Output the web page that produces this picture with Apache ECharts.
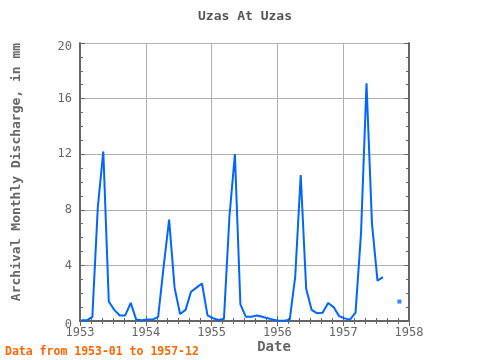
<!DOCTYPE html>
<html>
<head>
<meta charset="utf-8">
<script src="https://cdn.jsdelivr.net/npm/echarts@6/dist/echarts.min.js"></script>
<style>html,body{margin:0;padding:0;background:#fff}#c{width:480px;height:360px}</style>
</head>
<body>
<div id="c"></div>
<script>
// Monthly discharge (mm), Jan..Dec of each year; null = missing
const years = [1953, 1954, 1955, 1956, 1957];
const d1953 = [0.05, 0.05, 0.3, 8.2, 12.2, 1.4, 0.8, 0.4, 0.4, 1.3, 0.1, 0.05];
const d1954 = [0.1, 0.1, 0.3, 3.9, 7.3, 2.4, 0.5, 0.8, 2.1, 2.4, 2.7, 0.4];
const d1955 = [0.2, 0.07, 0.15, 7.5, 12.0, 1.2, 0.3, 0.3, 0.4, 0.3, 0.2, 0.1];
const d1956 = [0.02, 0.02, 0.1, 3.2, 10.5, 2.3, 0.8, 0.55, 0.6, 1.3, 1.0, 0.35];
const d1957 = [0.19, 0.1, 0.6, 6.3, 17.1, 7.0, 2.9, 3.15, null, null, 1.4, null];
const xTicks = [1953, 1954, 1955, 1956, 1957, 1958];
const yTicks = [0, 4, 8, 12, 16, 20];

const titleText = 'Uzas At Uzas';
const yName = 'Archival Monthly Discharge, in mm';
const xName = 'Date';
const footer = 'Data from 1953-01 to 1957-12';

const yearly = [d1953, d1954, d1955, d1956, d1957];
const lineData = [];
years.forEach((y, yi) => {
  yearly[yi].forEach((v, m) => {
    lineData.push([y + (m + 0.25) / 12, v]);
  });
});
// isolated points (both neighbours missing) are drawn as dots
const dotData = lineData.filter((p, i) => p[1] != null &&
  (i === 0 || lineData[i - 1][1] == null) &&
  (i === lineData.length - 1 || lineData[i + 1][1] == null));

const FONT = 'DejaVu Sans Mono';
const AX = '#666666';
const yMin = yTicks[0], yMax = yTicks[yTicks.length - 1];

const chart = echarts.init(document.getElementById('c'), null, {renderer: 'canvas'});
const tickCommon = {
  axisLine: {show: true, lineStyle: {color: AX, width: 2}},
  axisTick: {show: true, inside: true, length: 5, lineStyle: {color: AX, width: 1}},
  minorTick: {show: true, length: 3, lineStyle: {color: AX, width: 1}}
};
chart.setOption({
  animation: false,
  grid: {left: 80, right: 71, top: 43, bottom: 39, containLabel: false},
  xAxis: [
    Object.assign({
      type: 'value', min: xTicks[0], max: xTicks[xTicks.length - 1], interval: 1,
      position: 'bottom',
      splitLine: {show: true, lineStyle: {color: '#b0b0b0', width: 1}},
      axisLabel: {color: AX, fontFamily: FONT, fontSize: 12, margin: 6,
        formatter: v => String(v)}
    }, tickCommon, {minorTick: Object.assign({}, tickCommon.minorTick, {splitNumber: 6})}),
    Object.assign({
      type: 'value', min: xTicks[0], max: xTicks[xTicks.length - 1], interval: 1,
      position: 'top', splitLine: {show: false}, axisLabel: {show: false}
    }, tickCommon, {minorTick: Object.assign({}, tickCommon.minorTick, {splitNumber: 6})})
  ],
  yAxis: [
    Object.assign({
      type: 'value', min: yMin, max: yMax, interval: 4,
      position: 'left',
      splitLine: {show: true, lineStyle: {color: '#b0b0b0', width: 1}},
      axisLabel: {color: AX, fontFamily: FONT, fontSize: 12, margin: 8,
        formatter: v => (v === yMin || v === yMax) ? '{e|' + v + '}' : String(v),
        rich: {e: {color: AX, fontFamily: FONT, fontSize: 12, padding: [8, 0, 0, 0]}}}
    }, tickCommon, {minorTick: Object.assign({}, tickCommon.minorTick, {splitNumber: 4})}),
    Object.assign({
      type: 'value', min: yMin, max: yMax, interval: 4,
      position: 'right', splitLine: {show: false}, axisLabel: {show: false}
    }, tickCommon, {minorTick: Object.assign({}, tickCommon.minorTick, {splitNumber: 4})})
  ],
  graphic: [
    {type: 'text', x: 245, y: 17, style: {text: titleText, fill: '#555', font: 'bold 13px "DejaVu Sans Mono"', textAlign: 'center', textVerticalAlign: 'middle'}},
    {type: 'text', x: 17, y: 172, rotation: Math.PI / 2, style: {text: yName, fill: '#666', font: 'bold 13px "DejaVu Sans Mono"', textAlign: 'center', textVerticalAlign: 'middle'}},
    {type: 'text', x: 274, y: 347, style: {text: xName, fill: '#666', font: 'bold 14px "DejaVu Sans Mono"', textAlign: 'center', textVerticalAlign: 'middle'}},
    {type: 'text', x: 5, y: 352, style: {text: footer, fill: '#ff6600', font: 'bold 11.5px "DejaVu Sans Mono"', textAlign: 'left', textVerticalAlign: 'middle'}}
  ],
  series: [
    {type: 'line', data: lineData, showSymbol: false, symbol: 'none', connectNulls: false,
      lineStyle: {color: '#0066ff', width: 2}, z: 3},
    {type: 'scatter', data: dotData, symbol: 'rect', symbolSize: 4,
      itemStyle: {color: '#0066ff'}, z: 3}
  ]
});
</script>
</body>
</html>
